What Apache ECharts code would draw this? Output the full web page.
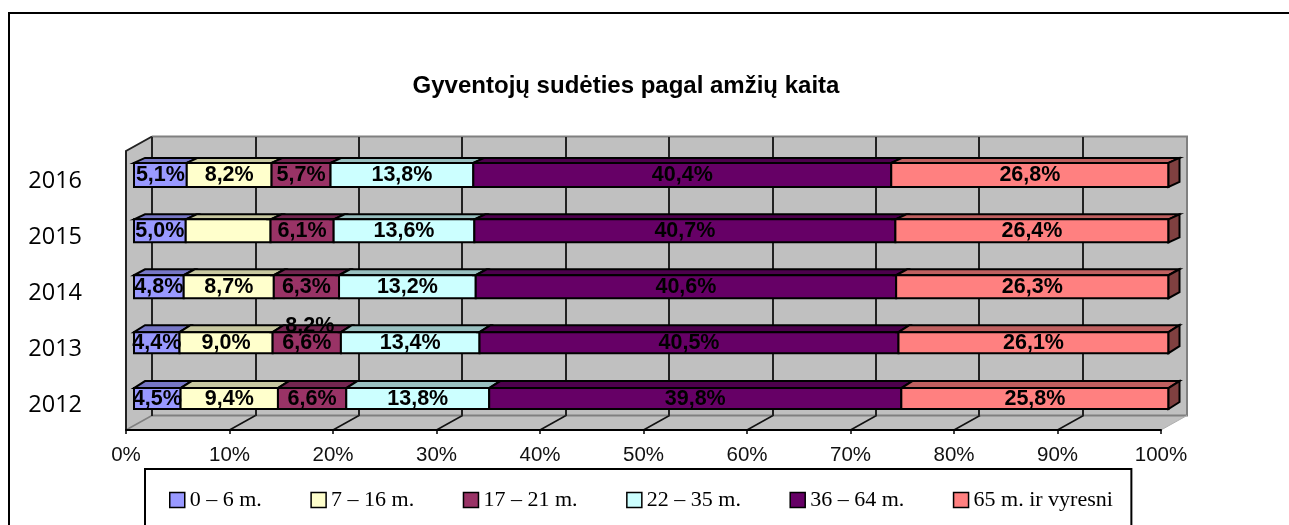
<!DOCTYPE html>
<html>
<head>
<meta charset="utf-8">
<style>html,body{margin:0;padding:0;background:#fff;overflow:hidden}#c{position:absolute;left:0;top:0;width:1289px;height:525px}</style>
<script src="https://cdn.jsdelivr.net/npm/echarts@6/dist/echarts.min.js"></script>
</head>
<body>
<div id="c"></div>
<script>
const years = ['2012', '2013', '2014', '2015', '2016'];
const axisTicks = [0, 10, 20, 30, 40, 50, 60, 70, 80, 90, 100];
const chartTitle = 'Gyventojų sudėties pagal amžių kaita';
const age0to6 = [4.5, 4.4, 4.8, 5.0, 5.1];
const age7to16 = [9.4, 9.0, 8.7, 8.2, 8.2];
const age17to21 = [6.6, 6.6, 6.3, 6.1, 5.7];
const age22to35 = [13.8, 13.4, 13.2, 13.6, 13.8];
const age36to64 = [39.8, 40.5, 40.6, 40.7, 40.4];
const age65plus = [25.8, 26.1, 26.3, 26.4, 26.8];
const groupNames = ['0 – 6 m.', '7 – 16 m.', '17 – 21 m.', '22 – 35 m.', '36 – 64 m.', '65 m. ir vyresni'];
const groupValues = [age0to6, age7to16, age17to21, age22to35, age36to64, age65plus];
const faceColors = ['#9999FF', '#FFFFCC', '#993366', '#CCFFFF', '#660066', '#FF8080'];
const topColors = ['#7777C6', '#C8C8A0', '#732650', '#99C0C0', '#4D004D', '#BF6060'];
const strayLabel = { text: '8,2%', year: '2013', at: 17.0, group: 1, fromYear: '2015' };

const faceH = [21, 21, 23, 23, 24];
const topDY = [7, 7, 6, 5, 5];
const sideDX = 11;
const stroke = { stroke: '#000', lineWidth: 2 };
const labelFont = 'bold 21.5px "Liberation Sans", Arial, sans-serif';

const totals = years.map((_, i) => groupValues.reduce((s, g) => s + g[i], 0));
const cum = years.map(() => 0);
const fmt = v => v.toFixed(1).replace('.', ',') + '%';

const barSeries = groupNames.map((name, g) => {
  const data = years.map((y, i) => {
    const a = cum[i] / totals[i] * 100;
    cum[i] += groupValues[g][i];
    const b = cum[i] / totals[i] * 100;
    return [i, a, b, groupValues[g][i]];
  });
  return {
    type: 'custom', name, xAxisIndex: 1, yAxisIndex: 1, z: 2,
    itemStyle: { color: faceColors[g] },
    encode: { x: [1, 2], y: 0 },
    data,
    renderItem(params, api) {
      const i = api.value(0);
      const p0 = api.coord([api.value(1), i]);
      const p1 = api.coord([api.value(2), i]);
      const h = faceH[i], dy = topDY[i], x0 = p0[0], x1 = p1[0];
      const t = p0[1] - h / 2, bot = p0[1] + h / 2;
      const kids = [
        { type: 'polygon', shape: { points: [[x0, t], [x0 + sideDX, t - dy], [x1 + sideDX, t - dy], [x1, t]] },
          style: { fill: topColors[g], ...stroke } },
        { type: 'rect', shape: { x: x0, y: t, width: x1 - x0, height: h },
          style: { fill: faceColors[g], ...stroke } }
      ];
      if (g === groupNames.length - 1) {
        kids.push({ type: 'polygon', shape: { points: [[x1, t], [x1 + sideDX, t - dy], [x1 + sideDX, bot - dy], [x1, bot]] },
          style: { fill: '#804040', ...stroke } });
      }
      const moved = g === strayLabel.group && years[i] === strayLabel.fromYear;
      if (!moved) {
        kids.push({ type: 'text', z2: 100, style: {
          x: (x0 + x1) / 2, y: p0[1] + 0.5, text: fmt(api.value(3)), align: 'center', verticalAlign: 'middle',
          font: labelFont, fill: '#000' } });
      }
      return { type: 'group', children: kids };
    }
  };
});

const frameSeries = {
  type: 'custom', name: 'frame', xAxisIndex: 0, yAxisIndex: 0, z: -1, silent: true,
  data: [[0, 0]],
  renderItem(params, api) {
    const c = params.coordSys;
    const L = c.x, R = c.x + c.width, T = c.y, B = c.y + c.height, dx = 26, dy = 14.5;
    const grey = { stroke: '#808080', lineWidth: 2 };
    const kids = [
      { type: 'polygon', shape: { points: [[L, T], [L + dx, T - dy], [R + dx, T - dy], [R + dx, B - dy], [R, B], [L, B]] },
        style: { fill: '#C0C0C0' } },
      { type: 'polyline', shape: { points: [[L + dx, T - dy], [R + dx, T - dy], [R + dx, B - dy], [L + dx, B - dy]] },
        style: { fill: 'none', ...grey } },
      { type: 'line', shape: { x1: L, y1: B, x2: L + dx, y2: B - dy }, style: { stroke: '#808080', lineWidth: 1.5 } },
      { type: 'line', shape: { x1: R, y1: B, x2: R + dx, y2: B - dy }, style: { stroke: '#B0B0B0', lineWidth: 1 } },
      { type: 'polyline', shape: { points: [[L, B], [L, T], [L + dx, T - dy]] },
        style: { fill: 'none', stroke: '#222', lineWidth: 2 } }
    ];
    axisTicks.slice(1, -1).forEach(v => {
      const x = api.coord([v, 0])[0];
      kids.push({ type: 'line', shape: { x1: x, y1: B, x2: x + dx, y2: B - dy }, style: { stroke: '#111', lineWidth: 1.5 } });
    });
    return { type: 'group', children: kids };
  }
};

const straySeries = {
  type: 'custom', name: 'stray', xAxisIndex: 1, yAxisIndex: 1, z: 2, silent: true,
  data: [[years.indexOf(strayLabel.year), strayLabel.at]],
  renderItem(params, api) {
    const p = api.coord([api.value(1), api.value(0)]);
    return { type: 'text', z2: 100, style: { x: p[0], y: p[1] - 16.5, text: strayLabel.text, align: 'center', verticalAlign: 'middle',
      font: labelFont, fill: '#000' } };
  }
};

const chart = echarts.init(document.getElementById('c'), null, { renderer: 'canvas', width: 1289, height: 525 });
chart.setOption({
  backgroundColor: '#fff',
  animation: false,
  graphic: [
    { type: 'polyline', silent: true, z: 0, shape: { points: [[9, 525], [9, 13], [1289, 13]] }, style: { fill: 'none', stroke: '#000', lineWidth: 2 } }
  ],
  title: { text: chartTitle, left: 626, top: 74, textAlign: 'center', padding: 0,
    textStyle: { fontFamily: '"Liberation Sans", Arial, sans-serif', fontWeight: 'bold', fontSize: 24, color: '#000' } },
  legend: {
    data: groupNames, left: 145, top: 469, orient: 'horizontal', icon: 'rect',
    padding: [20, 18.5, 43, 24], itemGap: 48.5, itemWidth: 15, itemHeight: 15, itemStyle: { borderColor: '#000', borderWidth: 1.5 },
    itemTextGap: 7, selectedMode: false, borderColor: '#000', borderWidth: 2, backgroundColor: '#fff',
    textStyle: { fontFamily: '"Liberation Serif", "Times New Roman", serif', fontSize: 22, color: '#000', padding: 0 }
  },
  grid: [
    { left: 126, width: 1035, top: 151, height: 279 },
    { left: 134, width: 1034.5, top: 147, height: 279.5 },
    { left: 152, width: 1034, top: 137, height: 279 },
    { left: 126, width: 1035, top: 153, height: 280 }
  ],
  xAxis: [
    { type: 'value', gridIndex: 0, min: 0, max: 100, interval: 10,
      axisLine: { show: true, lineStyle: { color: '#000', width: 2 } },
      axisTick: { show: true, length: 4, lineStyle: { color: '#000', width: 1.5 } },
      splitLine: { show: false },
      axisLabel: { formatter: '{value}%', margin: 15, color: '#111', fontSize: 20.5, fontFamily: '"Liberation Sans", Arial, sans-serif', hideOverlap: false } },
    { type: 'value', gridIndex: 1, min: 0, max: 100, show: false },
    { type: 'value', gridIndex: 2, min: 0, max: 100, interval: 10,
      axisLine: { show: false }, axisTick: { show: false }, axisLabel: { show: false },
      splitLine: { show: true, showMaxLine: false, lineStyle: { color: '#222', width: 2 } } },
    { type: 'value', gridIndex: 3, min: 0, max: 100, show: false }
  ],
  yAxis: [
    { type: 'value', gridIndex: 0, show: false, min: 0, max: 1, splitLine: { show: false } },
    { type: 'category', gridIndex: 1, data: years, show: false },
    { type: 'value', gridIndex: 2, show: false, min: 0, max: 1, splitLine: { show: false } },
    { type: 'category', gridIndex: 3, data: years, axisLine: { show: false }, axisTick: { show: false },
      axisLabel: { margin: 44, color: '#000', fontSize: 23.5, fontFamily: '"Open Sans", sans-serif' } }
  ],
  series: [frameSeries, ...barSeries, straySeries]
});
</script>
</body>
</html>
